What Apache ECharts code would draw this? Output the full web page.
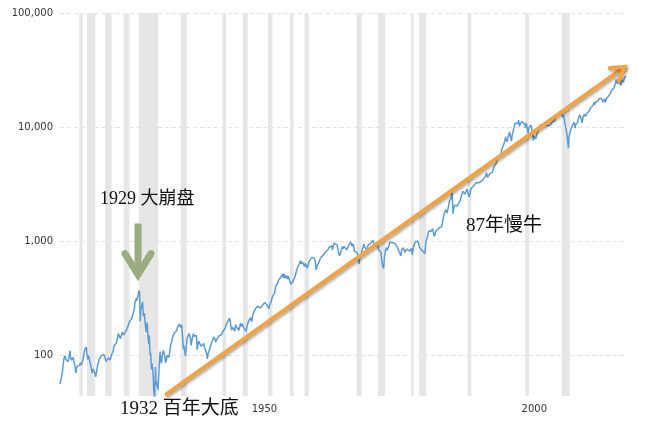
<!DOCTYPE html>
<html><head><meta charset="utf-8">
<script src="https://cdn.jsdelivr.net/npm/echarts@6/dist/echarts.min.js"></script>
<style>html,body{margin:0;padding:0;background:#fff}#c{width:662px;height:435px}</style>
</head><body><div id="c"></div>
<script>
// Dow Jones Industrial Average (nominal), [decimal year, value]
const dow1915to1929 = [
[1915.0,56],[1915.12,58],[1915.28,64],[1915.45,72],[1915.6,84],[1915.75,94],[1915.95,99],
[1916.12,92],[1916.28,90],[1916.45,88],[1916.62,93],[1916.78,104],[1916.87,110],[1916.95,96],
[1917.12,91],[1917.28,93],[1917.45,96],[1917.62,86],[1917.78,80],[1917.95,70],
[1918.12,80],[1918.28,78],[1918.45,82],[1918.62,82],[1918.78,86],[1918.95,82],
[1919.12,84],[1919.28,92],[1919.45,105],[1919.53,110],[1919.7,106],[1919.87,118],[1919.95,107],
[1920.12,92],[1920.28,100],[1920.45,91],[1920.62,85],[1920.78,85],[1920.95,70],
[1921.12,76],[1921.28,76],[1921.45,70],[1921.62,65],[1921.78,72],[1921.95,81],
[1922.12,84],[1922.28,92],[1922.45,93],[1922.62,99],[1922.78,102],[1922.95,97],
[1923.12,102],[1923.2,104],[1923.37,94],[1923.53,88],[1923.7,89],[1923.78,87],[1923.95,95],
[1924.12,98],[1924.28,91],[1924.37,89],[1924.53,100],[1924.7,102],[1924.87,110],[1924.95,120],
[1925.12,122],[1925.28,118],[1925.45,128],[1925.62,140],[1925.78,155],[1925.87,157],[1925.95,156],
[1926.12,160],[1926.2,140],[1926.37,142],[1926.53,160],[1926.62,166],[1926.78,150],[1926.95,157],
[1927.12,160],[1927.28,165],[1927.45,168],[1927.62,182],[1927.78,185],[1927.95,200],
[1928.12,196],[1928.28,210],[1928.45,205],[1928.62,240],[1928.78,255],[1928.87,290],[1928.95,300],
[1929.12,315],[1929.2,300],[1929.37,300],[1929.53,345],[1929.62,370],[1929.67,381],[1929.76,350],[1929.82,230],[1929.87,199],[1929.95,248]
];
const dow1930to1949 = [
[1930.12,270],[1930.3,294],[1930.45,220],[1930.62,235],[1930.7,240],[1930.78,190],[1930.95,160],
[1931.03,170],[1931.15,194],[1931.28,150],[1931.45,125],[1931.53,150],[1931.7,100],[1931.78,105],[1931.95,75],
[1932.03,85],[1932.2,75],[1932.37,50],[1932.52,41],[1932.68,79],[1932.78,60],[1932.95,60],
[1933.15,50],[1933.28,65],[1933.45,95],[1933.55,108],[1933.62,95],[1933.78,85],[1933.95,100],
[1934.12,110],[1934.28,105],[1934.45,97],[1934.53,86],[1934.7,90],[1934.87,100],[1934.95,104],
[1935.12,102],[1935.2,96],[1935.37,112],[1935.53,125],[1935.7,131],[1935.87,145],[1935.95,144],
[1936.12,155],[1936.28,150],[1936.45,158],[1936.62,165],[1936.78,177],[1936.95,180],
[1937.12,188],[1937.2,194],[1937.37,175],[1937.53,185],[1937.62,188],[1937.78,130],[1937.88,114],[1937.95,121],
[1938.12,125],[1938.25,99],[1938.37,115],[1938.53,140],[1938.7,140],[1938.87,155],[1938.95,154],
[1939.12,145],[1939.28,122],[1939.45,135],[1939.62,135],[1939.7,155],[1939.87,147],[1939.95,150],
[1940.12,147],[1940.28,149],[1940.4,112],[1940.53,123],[1940.7,133],[1940.87,135],[1940.95,131],
[1941.12,120],[1941.28,117],[1941.45,123],[1941.62,127],[1941.78,117],[1941.95,111],
[1942.12,106],[1942.3,93],[1942.45,104],[1942.62,107],[1942.78,116],[1942.95,119],
[1943.12,130],[1943.28,136],[1943.53,145],[1943.7,140],[1943.87,130],[1943.95,136],
[1944.12,135],[1944.28,138],[1944.45,148],[1944.62,146],[1944.78,146],[1944.95,152],
[1945.12,160],[1945.28,166],[1945.45,165],[1945.62,174],[1945.78,186],[1945.95,193],
[1946.12,187],[1946.4,212],[1946.53,200],[1946.75,166],[1946.87,169],[1946.95,177],
[1947.12,180],[1947.28,170],[1947.37,163],[1947.53,185],[1947.7,177],[1947.87,180],[1947.95,181],
[1948.12,166],[1948.28,178],[1948.45,191],[1948.62,179],[1948.78,188],[1948.95,177],
[1949.12,171],[1949.28,174],[1949.45,162],[1949.62,178],[1949.78,189],[1949.95,200]
];
const dow1950to1979 = [
[1950.12,203],[1950.28,214],[1950.45,209],[1950.53,197],[1950.7,226],[1950.87,228],[1950.95,235],
[1951.12,252],[1951.28,259],[1951.45,243],[1951.62,270],[1951.7,276],[1951.87,261],[1951.95,269],
[1952.12,260],[1952.28,257],[1952.45,274],[1952.62,275],[1952.78,269],[1952.95,291],
[1953.03,290],[1953.2,280],[1953.37,274],[1953.53,274],[1953.7,256],[1953.87,281],[1953.95,280],
[1954.12,294],[1954.28,319],[1954.45,333],[1954.62,336],[1954.78,352],[1954.95,404],
[1955.12,411],[1955.28,426],[1955.45,452],[1955.62,468],[1955.7,466],[1955.78,455],[1955.95,488],
[1956.12,485],[1956.28,516],[1956.37,478],[1956.53,518],[1956.7,475],[1956.87,473],[1956.95,499],
[1957.12,465],[1957.28,494],[1957.53,508],[1957.62,484],[1957.78,420],[1957.95,436],
[1958.12,440],[1958.28,456],[1958.45,478],[1958.62,508],[1958.78,543],[1958.95,584],
[1959.12,603],[1959.28,624],[1959.53,674],[1959.7,632],[1959.87,659],[1959.95,679],
[1960.12,630],[1960.28,601],[1960.45,640],[1960.62,626],[1960.78,580],[1960.95,616],
[1961.12,662],[1961.28,672],[1961.45,684],[1961.62,719],[1961.78,703],[1961.95,731],
[1962.12,711],[1962.28,665],[1962.45,561],[1962.62,609],[1962.78,589],[1962.95,652],
[1963.12,663],[1963.28,717],[1963.45,707],[1963.62,729],[1963.78,755],[1963.95,763],
[1964.12,800],[1964.28,810],[1964.45,831],[1964.62,838],[1964.78,873],[1964.95,874],
[1965.12,903],[1965.37,918],[1965.45,840],[1965.62,893],[1965.78,961],[1965.95,969],
[1966.1,990],[1966.28,933],[1966.45,870],[1966.62,788],[1966.77,744],[1966.95,785],
[1967.12,839],[1967.28,897],[1967.45,860],[1967.62,901],[1967.7,926],[1967.87,875],[1967.95,905],
[1968.12,840],[1968.2,830],[1968.37,899],[1968.53,883],[1968.7,935],[1968.87,985],[1968.95,943],
[1969.12,905],[1969.28,950],[1969.45,873],[1969.53,815],[1969.7,813],[1969.87,812],[1969.95,800],
[1970.12,777],[1970.28,736],[1970.4,631],[1970.53,734],[1970.7,760],[1970.87,794],[1970.95,838],
[1971.12,878],[1971.28,941],[1971.45,891],[1971.62,898],[1971.78,839],[1971.87,798],[1971.95,890],
[1972.12,928],[1972.28,954],[1972.45,929],[1972.62,963],[1972.78,955],[1972.95,1020],
[1973.03,1051],[1973.2,951],[1973.37,901],[1973.53,926],[1973.7,947],[1973.78,987],[1973.95,850],
[1974.12,860],[1974.28,837],[1974.45,802],[1974.62,679],[1974.78,607],[1974.95,577],
[1975.12,739],[1975.28,821],[1975.45,879],[1975.62,835],[1975.78,836],[1975.95,852],
[1976.12,972],[1976.28,997],[1976.45,1002],[1976.62,974],[1976.7,1014],[1976.87,947],[1976.95,1004],
[1977.12,947],[1977.28,926],[1977.45,916],[1977.62,861],[1977.78,818],[1977.95,831],
[1978.15,742],[1978.28,837],[1978.45,819],[1978.62,876],[1978.7,907],[1978.87,799],[1978.95,805],
[1979.12,809],[1979.28,854],[1979.45,842],[1979.62,887],[1979.78,816],[1979.95,839]
];
const dow1980to2019 = [
[1980.12,863],[1980.25,759],[1980.45,867],[1980.62,933],[1980.78,924],[1980.87,993],[1980.95,964],
[1981.12,975],[1981.28,1000],[1981.45,976],[1981.62,882],[1981.7,850],[1981.87,889],[1981.95,875],
[1982.12,824],[1982.28,848],[1982.45,812],[1982.6,777],[1982.7,896],[1982.78,991],[1982.95,1046],
[1983.12,1113],[1983.28,1226],[1983.45,1221],[1983.62,1216],[1983.78,1225],[1983.95,1259],
[1984.03,1287],[1984.2,1164],[1984.37,1104],[1984.55,1087],[1984.62,1224],[1984.78,1207],[1984.95,1211],
[1985.12,1299],[1985.28,1285],[1985.45,1335],[1985.62,1334],[1985.78,1390],[1985.95,1547],
[1986.12,1709],[1986.28,1783],[1986.45,1892],[1986.62,1898],[1986.7,1767],[1986.87,1914],[1986.95,1896],
[1987.12,2224],[1987.28,2286],[1987.45,2419],[1987.65,2662],[1987.8,1738],[1987.87,1834],[1987.95,1939],
[1988.12,2071],[1988.28,2032],[1988.45,2141],[1988.62,2031],[1988.78,2148],[1988.95,2168],
[1989.12,2258],[1989.28,2418],[1989.45,2440],[1989.62,2737],[1989.78,2645],[1989.95,2753],
[1990.03,2590],[1990.2,2707],[1990.37,2876],[1990.53,2905],[1990.62,2614],[1990.8,2442],[1990.95,2633],
[1991.12,2882],[1991.28,2887],[1991.45,2906],[1991.62,3043],[1991.78,3069],[1991.95,3168],
[1992.12,3267],[1992.28,3359],[1992.45,3318],[1992.62,3257],[1992.78,3226],[1992.95,3301],
[1993.12,3370],[1993.28,3427],[1993.45,3516],[1993.62,3651],[1993.78,3681],[1993.95,3754],
[1994.03,3978],[1994.2,3636],[1994.45,3625],[1994.62,3913],[1994.78,3908],[1994.95,3834],
[1995.12,4011],[1995.28,4321],[1995.45,4556],[1995.62,4611],[1995.78,4756],[1995.95,5117],
[1996.12,5485],[1996.28,5569],[1996.45,5654],[1996.53,5528],[1996.7,5882],[1996.87,6521],[1996.95,6448],
[1997.12,6877],[1997.28,7009],[1997.45,7673],[1997.53,8222],[1997.7,7945],[1997.78,7442],[1997.95,7908],
[1998.12,8546],[1998.28,9063],[1998.45,8952],[1998.53,8883],[1998.62,7539],[1998.78,8592],[1998.95,9181],
[1999.12,9307],[1999.28,10789],[1999.37,10560],[1999.53,10655],[1999.62,10829],[1999.78,10729],[1999.95,11497],
[2000.03,11722],[2000.12,10128],[2000.28,10734],[2000.45,10448],[2000.62,11215],[2000.78,10971],[2000.95,10788],
[2001.12,10495],[2001.2,9879],[2001.37,10912],[2001.53,10523],[2001.72,8848],[2001.87,9852],[2001.95,10022],
[2002.12,10106],[2002.2,10404],[2002.37,9925],[2002.53,8737],[2002.7,7592],[2002.78,8397],[2002.95,8342],
[2003.12,7891],[2003.28,8480],[2003.45,8985],[2003.62,9416],[2003.78,9801],[2003.95,10454],
[2004.12,10584],[2004.28,10226],[2004.45,10435],[2004.62,10174],[2004.78,10027],[2004.95,10783],
[2005.12,10766],[2005.28,10193],[2005.45,10275],[2005.62,10482],[2005.78,10440],[2005.95,10718],
[2006.12,10993],[2006.28,11367],[2006.45,11150],[2006.62,11381],[2006.78,12081],[2006.95,12463],
[2007.12,12269],[2007.28,13063],[2007.45,13409],[2007.53,13212],[2007.75,13930],[2007.95,13265],
[2008.12,12266],[2008.28,12820],[2008.45,11350],[2008.62,11544],[2008.78,9325],[2008.87,8829],[2008.95,8776],
[2009.12,7063],[2009.17,6547],[2009.28,8168],[2009.45,8447],[2009.62,9496],[2009.78,9713],[2009.95,10428],
[2010.12,10325],[2010.28,11009],[2010.45,9774],[2010.53,10466],[2010.7,10788],[2010.87,11006],[2010.95,11578],
[2011.12,12226],[2011.28,12811],[2011.45,12414],[2011.62,11614],[2011.7,10913],[2011.87,12046],[2011.95,12218],
[2012.12,12952],[2012.28,13214],[2012.37,12393],[2012.53,13009],[2012.7,13437],[2012.87,13026],[2012.95,13104],
[2013.12,14054],[2013.28,14840],[2013.45,14910],[2013.62,14810],[2013.78,15546],[2013.95,16577],
[2014.03,15699],[2014.2,16458],[2014.37,16717],[2014.53,16563],[2014.7,17043],[2014.87,17828],[2014.95,17823],
[2015.12,18133],[2015.28,17841],[2015.45,17620],[2015.62,16528],[2015.7,16285],[2015.87,17720],[2015.95,17425],
[2016.03,16466],[2016.2,17685],[2016.37,17787],[2016.53,18432],[2016.7,18308],[2016.87,19124],[2016.95,19763],
[2017.12,20812],[2017.28,20940],[2017.45,21350],[2017.62,21948],[2017.78,23377],[2017.95,24719],
[2018.03,26149],[2018.2,24103],[2018.37,24416],[2018.53,25415],[2018.7,26458],[2018.78,25116],[2018.95,23327],
[2019.12,25916],[2019.28,26593],[2019.37,24815],[2019.53,26864],[2019.62,26403],[2019.7,26917],[2019.78,27046],[2019.84,28051]
];
// US recessions [start, end]
const recessions = [
[1918.6,1919.2],[1920.0,1921.55],[1923.37,1924.55],[1926.8,1927.87],[1929.6,1933.2],
[1937.37,1938.45],[1945.1,1945.78],[1948.87,1949.78],[1953.53,1954.37],[1957.62,1958.28],
[1960.28,1961.12],[1969.95,1970.87],[1973.87,1975.2],[1980.03,1980.53],[1981.53,1982.87],
[1990.53,1991.2],[2001.2,2001.87],[2007.95,2009.45]
];
const xTickLabels = [1950, 2000];
const yTickLabels = [100, 1000, 10000, 100000];
// annotation anchors in data space
const trendStart = [1934.75, 45.6];
const trendEnd = [2019.6, 33700];
const crashArrowTop = [1929.45, 1430];
const crashArrowTip = [1929.45, 490];
const labelCrash = '1929 大崩盘';
const labelBottom = '1932 百年大底';
const labelBull = '87年慢牛';

const dow = dow1915to1929.concat(dow1930to1949, dow1950to1979, dow1980to2019);

const chart = echarts.init(document.getElementById('c'), null, {renderer: 'canvas'});
const txtFont = 'DejaVu Sans, Verdana, sans-serif';
chart.setOption({
  animation: false,
  backgroundColor: '#fff',
  grid: {left: 60, right: 36, top: 13, bottom: 39, containLabel: false},
  xAxis: {
    type: 'value', min: 1915, max: 2019.85,
    axisLine: {show: false}, axisTick: {show: false}, splitLine: {show: false},
    axisLabel: {customValues: xTickLabels, fontSize: 10, color: '#333', fontFamily: txtFont,
      margin: 8, padding: [0, 0, 0, 31], formatter: v => String(v)}
  },
  yAxis: {
    type: 'log', logBase: 10, min: 44, max: 100000,
    axisLine: {show: false}, axisTick: {show: false},
    axisLabel: {fontSize: 10, color: '#333', fontFamily: txtFont, margin: 7, showMinLabel: false,
      formatter: v => {
        const l = Math.log10(v);
        if (Math.abs(l - Math.round(l)) > 1e-6) return '';
        const r = Math.round(v);
        return yTickLabels.indexOf(r) >= 0 ? r.toLocaleString('en-US') : '';
      }},
    splitLine: {show: true, showMinLine: false, lineStyle: {color: '#e2e2e2', type: [4, 3], width: 1}}
  },
  series: [
    {type: 'line', data: [], z: 1, silent: true,
     markArea: {silent: true, itemStyle: {color: '#e6e6e6'},
       data: recessions.map(r => [{xAxis: r[0]}, {xAxis: r[1]}])}},
    {type: 'line', data: dow, z: 3, showSymbol: false, symbol: 'none', clip: true,
     lineStyle: {color: '#5b9bd5', width: 1.5}}
  ]
});

function px(p) { return chart.convertToPixel({gridIndex: 0}, p); }
const a = px(trendStart), b = px(trendEnd);
const ang = Math.atan2(a[1] - b[1], a[0] - b[0]);
const armLen = 15, spread = 0.55;
const arm1 = [b[0] + armLen * Math.cos(ang + spread), b[1] + armLen * Math.sin(ang + spread)];
const arm2 = [b[0] + armLen * Math.cos(ang - spread), b[1] + armLen * Math.sin(ang - spread)];
const orange = '#f3a342';
const shadow = {shadowColor: 'rgba(0,0,0,0.35)', shadowBlur: 3, shadowOffsetX: 1, shadowOffsetY: 2};
const gTop = px(crashArrowTop), gTip = px(crashArrowTip);
const green = '#9bac80';
const cjk = '"Liberation Serif", "Noto Sans CJK SC", serif';
chart.setOption({
  graphic: [
    {type: 'polyline', z: 10, shape: {points: [a, b]},
     style: Object.assign({stroke: orange, lineWidth: 4, lineCap: 'round'}, shadow)},
    {type: 'polyline', z: 10, shape: {points: [arm1, b, arm2]},
     style: Object.assign({stroke: orange, lineWidth: 4, lineCap: 'round', lineJoin: 'miter', fill: null}, shadow)},
    {type: 'polyline', z: 10, shape: {points: [gTop, [gTip[0], gTip[1] - 6]]},
     style: {stroke: green, lineWidth: 7, lineCap: 'butt'}},
    {type: 'polyline', z: 10, shape: {points: [[gTip[0] - 13, gTip[1] - 23], [gTip[0], gTip[1] - 2], [gTip[0] + 13, gTip[1] - 23]]},
     style: {stroke: green, lineWidth: 7, lineCap: 'round', lineJoin: 'miter', fill: null}},
    {type: 'text', z: 11, left: 100, top: 190,
     style: {text: labelCrash, fontSize: 18, fontFamily: cjk, fill: '#111'}},
    {type: 'text', z: 11, left: 120, top: 400,
     style: {text: labelBottom, fontSize: 19, fontFamily: cjk, fill: '#111'}},
    {type: 'text', z: 11, left: 466, top: 217,
     style: {text: labelBull, fontSize: 19, fontFamily: cjk, fill: '#111'}}
  ]
});
</script>
</body></html>
